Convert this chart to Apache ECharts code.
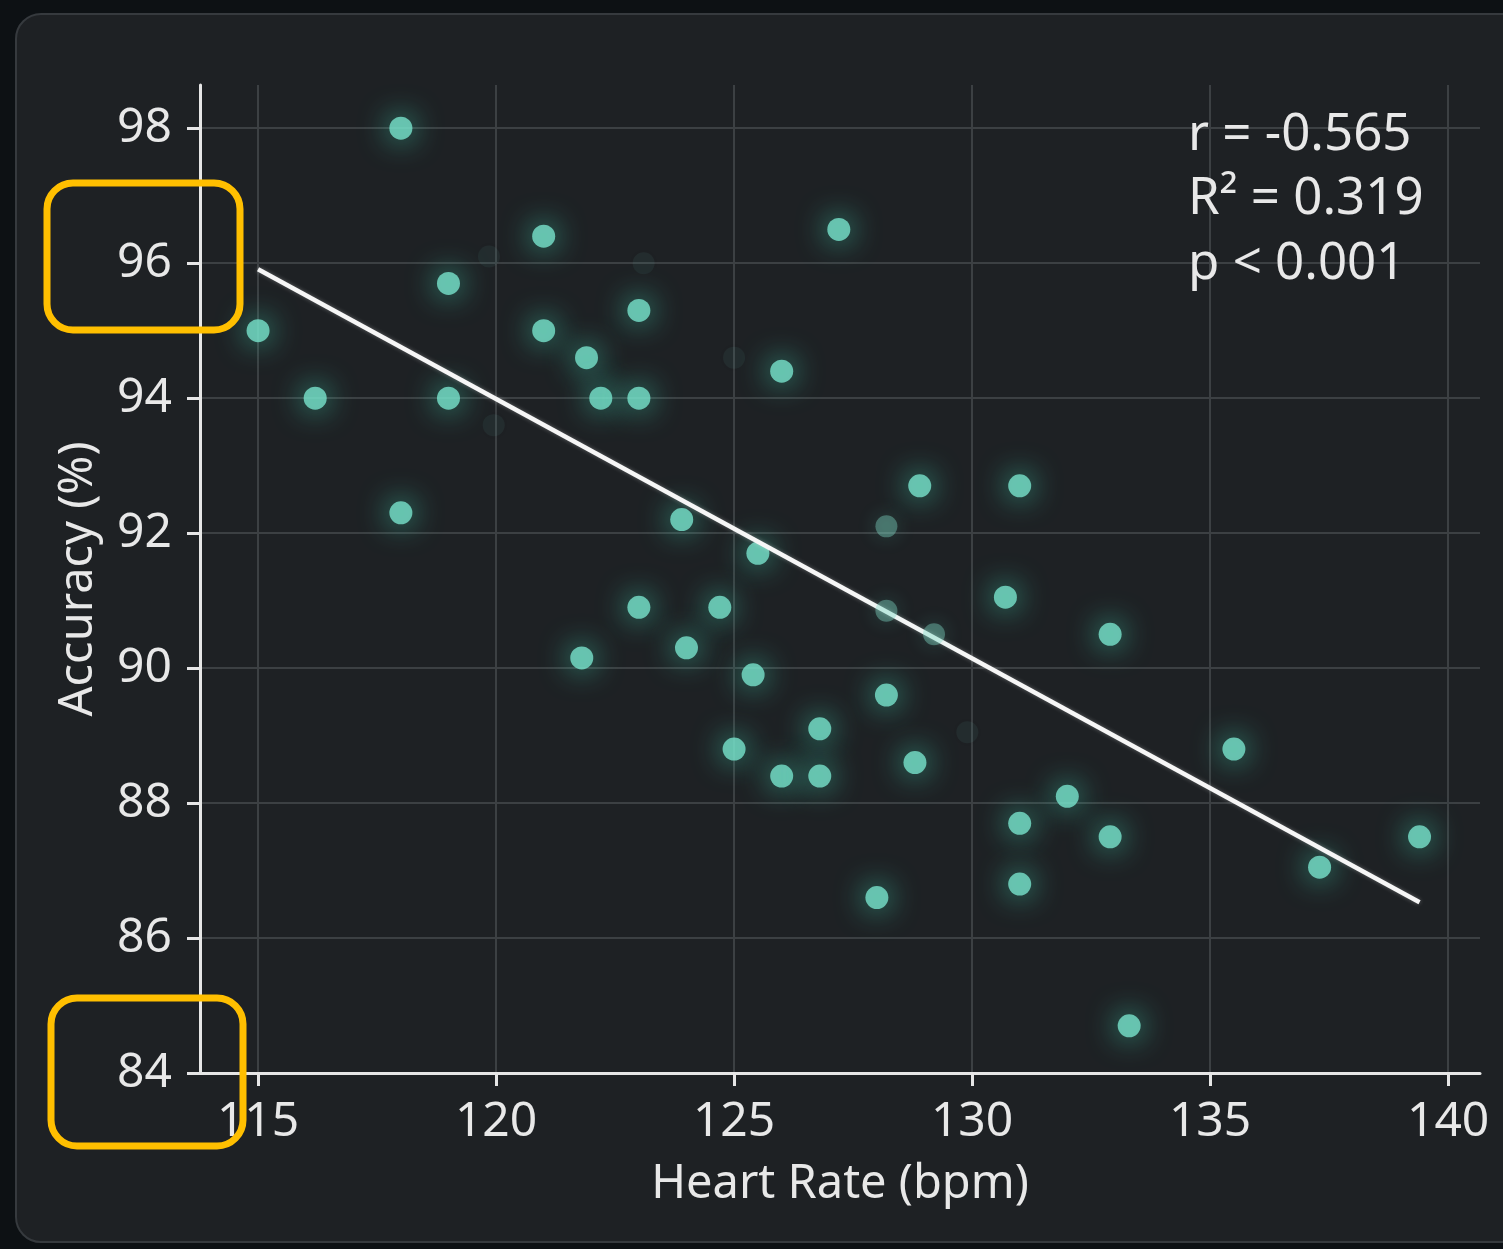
<!DOCTYPE html>
<html>
<head>
<meta charset="utf-8">
<script src="https://cdn.jsdelivr.net/npm/echarts@6/dist/echarts.min.js"></script>
<style>
html,body{margin:0;padding:0;background:#0d1114;width:1503px;height:1249px;overflow:hidden;}
#panel{position:absolute;left:15px;top:13px;width:1520px;height:1230px;border-radius:26px;background:#1e2124;border:2px solid #363a3e;box-sizing:border-box;}
#chart{position:absolute;left:0;top:0;width:1503px;height:1249px;}
</style>
</head>
<body>
<div id="panel"></div>
<div id="chart"></div>
<script>
// Heart rate (bpm) values
const heartRate = [118.0,121.0,127.2,119.0,123.0,115.0,121.0,121.9,126.0,116.2,119.0,122.2,123.0,128.9,131.0,118.0,123.9,125.5,130.7,123.0,124.7,132.9,124.0,121.8,125.4,128.2,126.8,125.0,135.5,128.8,126.0,126.8,132.0,131.0,132.9,139.4,137.3,131.0,128.0,133.3];
// Accuracy (%) values
const accuracy = [98.0,96.4,96.5,95.7,95.3,95.0,95.0,94.6,94.4,94.0,94.0,94.0,94.0,92.7,92.7,92.3,92.2,91.7,91.05,90.9,90.9,90.5,90.3,90.15,89.9,89.6,89.1,88.8,88.8,88.6,88.4,88.4,88.1,87.7,87.5,87.5,87.05,86.8,86.6,84.7];
// Semi-faded points
const softHR = [128.2,128.2,129.2];
const softAcc = [92.1,90.85,90.5];
// Ghost (very faint) points
const ghostHR = [119.85,123.1,125.0,119.95,129.9];
const ghostAcc = [96.1,96.0,94.6,93.6,89.05];
// Regression line endpoints
const fitHR = [115.0,139.4];
const fitAcc = [95.91,86.53];
// Tick values
const xTicks = [115,120,125,130,135,140];
const yTicks = [84,86,88,90,92,94,96,98];
// Stats annotation lines
const statsLines = ['r = -0.565','R\u00B2 = 0.319','p < 0.001'];

const zip = (a,b) => a.map((v,i)=>[v,b[i]]);
const FONT = 'Noto Sans';
const TXT = '#e8e8e8';

const chart = echarts.init(document.getElementById('chart'), null, {renderer:'canvas'});
const option = {
  backgroundColor: 'transparent',
  animation: false,
  grid: {left:200, right:23, top:85, bottom:176, containLabel:false},
  xAxis: {
    type:'value', min:113.78, max:140.67,
    name:'Heart Rate (bpm)', nameLocation:'middle', nameGap:88,
    nameTextStyle:{color:TXT, fontSize:47, fontFamily:FONT},
    axisLine:{show:true, lineStyle:{color:'#e6e6e6', width:3}},
    axisTick:{show:true, length:13, lineStyle:{color:'#e6e6e6', width:3}, customValues:xTicks},
    axisLabel:{color:TXT, fontSize:48, fontFamily:FONT, margin:25, customValues:xTicks, formatter:v=>String(v)},
    splitLine:{show:true, lineStyle:{color:'#3c4043', width:2}}
  },
  yAxis: {
    type:'value', min:84, max:98.64,
    name:'Accuracy (%)', nameLocation:'middle', nameGap:98, nameRotate:90,
    nameTextStyle:{color:TXT, fontSize:47, fontFamily:FONT},
    axisLine:{show:true, lineStyle:{color:'#e6e6e6', width:3}},
    axisTick:{show:true, length:13, lineStyle:{color:'#e6e6e6', width:3}, customValues:yTicks},
    axisLabel:{color:TXT, fontSize:48, fontFamily:FONT, margin:28, customValues:yTicks, formatter:v=>String(v)},
    splitLine:{show:true, lineStyle:{color:'#3c4043', width:2}}
  },
  series: [
    {
      type:'scatter', data: zip(ghostHR, ghostAcc), symbolSize:22, z:2,
      itemStyle:{color:'rgba(110,200,180,0.09)', shadowBlur:18, shadowColor:'rgba(110,220,190,0.2)'}
    },
    {
      type:'scatter', data: zip(heartRate, accuracy), symbolSize:23, z:3,
      itemStyle:{color:'#78e3cc', shadowBlur:30, shadowColor:'rgba(70,230,195,0.95)'}
    },
    {
      type:'line', data: zip(fitHR, fitAcc), showSymbol:false, symbol:'none', z:4,
      lineStyle:{color:'#f6f6f6', width:4.5, shadowBlur:4, shadowColor:'rgba(255,255,255,0.3)'}
    },
    {
      type:'scatter', data: zip(softHR, softAcc), symbolSize:22, z:5,
      itemStyle:{color:'rgba(130,220,200,0.5)', shadowBlur:20, shadowColor:'rgba(90,225,195,0.5)'}
    }
  ],
  graphic: [
    {type:'text', left:1188, top:110, z:50, style:{text:statsLines[0], fill:TXT, font:'51px "Noto Sans"'}},
    {type:'text', left:1188, top:174, z:50, style:{text:statsLines[1], fill:TXT, font:'51px "Noto Sans"'}},
    {type:'text', left:1188, top:239, z:50, style:{text:statsLines[2], fill:TXT, font:'51px "Noto Sans"'}},
    {type:'rect', z:100, shape:{x:47, y:183, width:193, height:147, r:26}, style:{fill:'none', stroke:'#ffbf00', lineWidth:7}},
    {type:'rect', z:100, shape:{x:51, y:998, width:192, height:148, r:26}, style:{fill:'none', stroke:'#ffbf00', lineWidth:7}}
  ]
};
chart.setOption(option);
</script>
</body>
</html>
